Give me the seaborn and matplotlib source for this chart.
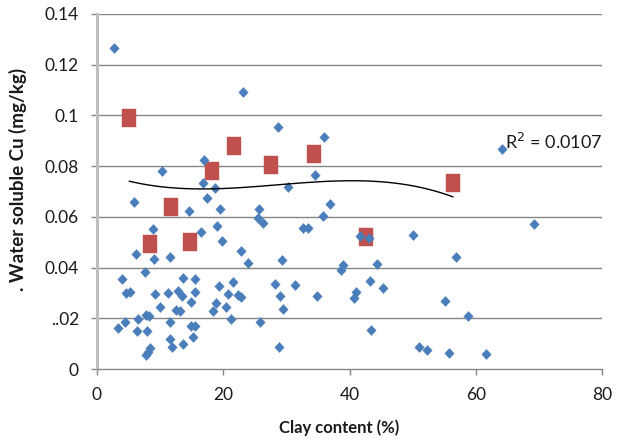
import numpy as np
import pandas as pd
import matplotlib
matplotlib.use("Agg")
import matplotlib.pyplot as plt
from matplotlib.path import Path
import seaborn as sns

# ---- data ----
blue_x = [2.7, 23.2, 28.7, 35.9, 17.0, 10.3, 16.8, 18.7, 17.5, 5.9,
          14.6, 19.5, 8.8, 16.4, 19.0, 19.8, 6.1, 9.0, 11.5, 7.6,
          3.9, 4.6, 5.3, 9.2, 11.2, 13.6, 15.5, 12.8, 13.4, 15.5,
          14.9, 10.0, 12.5, 13.2, 19.4, 18.9, 18.4, 6.5, 7.7, 8.2,
          4.4, 3.3, 6.4, 7.9, 11.6, 14.9, 15.6, 15.2, 11.6, 11.9,
          13.6, 8.4, 7.7, 8.1, 34.6, 30.3, 25.6, 25.5, 26.3, 36.9,
          35.8, 32.6, 33.5, 22.8, 29.3, 23.9, 38.9, 38.6, 21.6, 20.8,
          22.4, 22.8, 28.2, 31.3, 29.0, 29.4, 34.9, 41.1, 40.7, 20.5,
          21.3, 25.9, 28.8, 64.2, 69.2, 41.7, 43.1, 50.1, 56.8, 44.3,
          43.3, 45.3, 55.1, 58.8, 43.4, 51.0, 52.2, 55.7, 61.6]
blue_y = [0.1266, 0.1094, 0.0955, 0.0916, 0.0824, 0.0780, 0.0732, 0.0713, 0.0673, 0.0660,
          0.0624, 0.0630, 0.0551, 0.0541, 0.0565, 0.0505, 0.0453, 0.0434, 0.0442, 0.0381,
          0.0355, 0.0301, 0.0305, 0.0296, 0.0301, 0.0359, 0.0355, 0.0309, 0.0288, 0.0305,
          0.0265, 0.0246, 0.0233, 0.0229, 0.0329, 0.0259, 0.0229, 0.0196, 0.0213, 0.0210,
          0.0187, 0.0160, 0.0151, 0.0151, 0.0184, 0.0168, 0.0168, 0.0125, 0.0117, 0.0086,
          0.0097, 0.0082, 0.0055, 0.0068, 0.0765, 0.0719, 0.0630, 0.0594, 0.0577, 0.0649,
          0.0603, 0.0555, 0.0557, 0.0467, 0.0430, 0.0419, 0.0410, 0.0390, 0.0342, 0.0296,
          0.0292, 0.0285, 0.0335, 0.0331, 0.0288, 0.0235, 0.0288, 0.0305, 0.0279, 0.0243,
          0.0196, 0.0187, 0.0088, 0.0868, 0.0572, 0.0525, 0.0518, 0.0528, 0.0440, 0.0413,
          0.0347, 0.0321, 0.0267, 0.0209, 0.0154, 0.0086, 0.0075, 0.0064, 0.0059]

red_x = [5.1, 8.4, 11.7, 14.8, 18.2, 21.7, 27.5, 34.3, 42.6, 56.4]
red_y = [0.0991, 0.0493, 0.0640, 0.0502, 0.0782, 0.0881, 0.0806, 0.0848, 0.0522, 0.0732]

x_ticks = [0, 20, 40, 60, 80]
y_ticks = [0, 0.02, 0.04, 0.06, 0.08, 0.10, 0.12, 0.14]
y_tick_labels = ["0", "..02", "0.04", "0.06", "0.08", "0.1", "0.12", "0.14"]
x_label = "Clay content (%)"
y_label = ". Water soluble Cu (mg/kg)"
r2_text = "R$^2$ = 0.0107"

blue_df = pd.DataFrame({"clay": blue_x, "cu": blue_y})
red_df = pd.DataFrame({"clay": red_x, "cu": red_y})

# ---- styling ----
sns.set_style("white")
plt.rcParams["font.family"] = ["Lato", "DejaVu Sans"]

BLUE = "#4A7EBB"
RED = "#C0504D"
GRID = "#868686"
TXT = "#1a1a1a"

diamond = Path([(0, 0.5), (0.47, 0), (0, -0.5), (-0.47, 0), (0, 0.5)],
               [Path.MOVETO, Path.LINETO, Path.LINETO, Path.LINETO, Path.CLOSEPOLY])
rect = Path([(-0.425, -0.5), (0.425, -0.5), (0.425, 0.5), (-0.425, 0.5), (-0.425, -0.5)],
            [Path.MOVETO, Path.LINETO, Path.LINETO, Path.LINETO, Path.CLOSEPOLY])

fig = plt.figure(figsize=(6.23, 4.42), dpi=100)
ax = fig.add_axes([97 / 623, 1 - 369 / 442, (602 - 97) / 623, (369 - 14) / 442])

ax.set_xlim(0, 80)
ax.set_ylim(0, 0.14)

for yt in y_ticks[1:]:
    ax.axhline(yt, color=GRID, lw=1.0, zorder=0)

sns.scatterplot(data=blue_df, x="clay", y="cu", marker=diamond, s=52,
                color=BLUE, edgecolor=BLUE, linewidth=0.3, ax=ax, zorder=3)
sns.scatterplot(data=red_df, x="clay", y="cu", marker=rect, s=160,
                color=RED, edgecolor=RED, linewidth=0.3, ax=ax, zorder=2)
sns.regplot(data=red_df, x="clay", y="cu", order=3, ci=None, scatter=False,
            truncate=True, line_kws={"color": "black", "lw": 1.0, "zorder": 4}, ax=ax)

ax.text(64.6, 0.0895, r2_text, fontsize=13, color=TXT, va="center", ha="left", zorder=5)

ax.set_xticks(x_ticks)
ax.set_yticks(y_ticks)
ax.set_yticklabels(y_tick_labels)
ax.tick_params(axis="both", which="major", length=4, width=1, color=GRID,
               labelsize=12.5, labelcolor=TXT, direction="out", left=True, bottom=True)
ax.tick_params(axis="x", pad=9)
ax.tick_params(axis="y", pad=9)

for s in ["top", "right"]:
    ax.spines[s].set_visible(False)
ax.spines["left"].set_color("#BFBFBF")
ax.spines["left"].set_linewidth(2.2)
ax.spines["bottom"].set_color(GRID)
ax.spines["bottom"].set_linewidth(1.0)

ax.set_xlabel(x_label, fontsize=12, fontweight="bold", color=TXT)
ax.set_ylabel(y_label, fontsize=13.5, fontweight="bold", color=TXT)
ax.xaxis.set_label_coords((339 - 97) / 505, -(419 - 369) / 355)
ax.yaxis.set_label_coords(-(97 - 27) / 505, (369 - 179) / 355)

fig.savefig("out.png", dpi=100)
